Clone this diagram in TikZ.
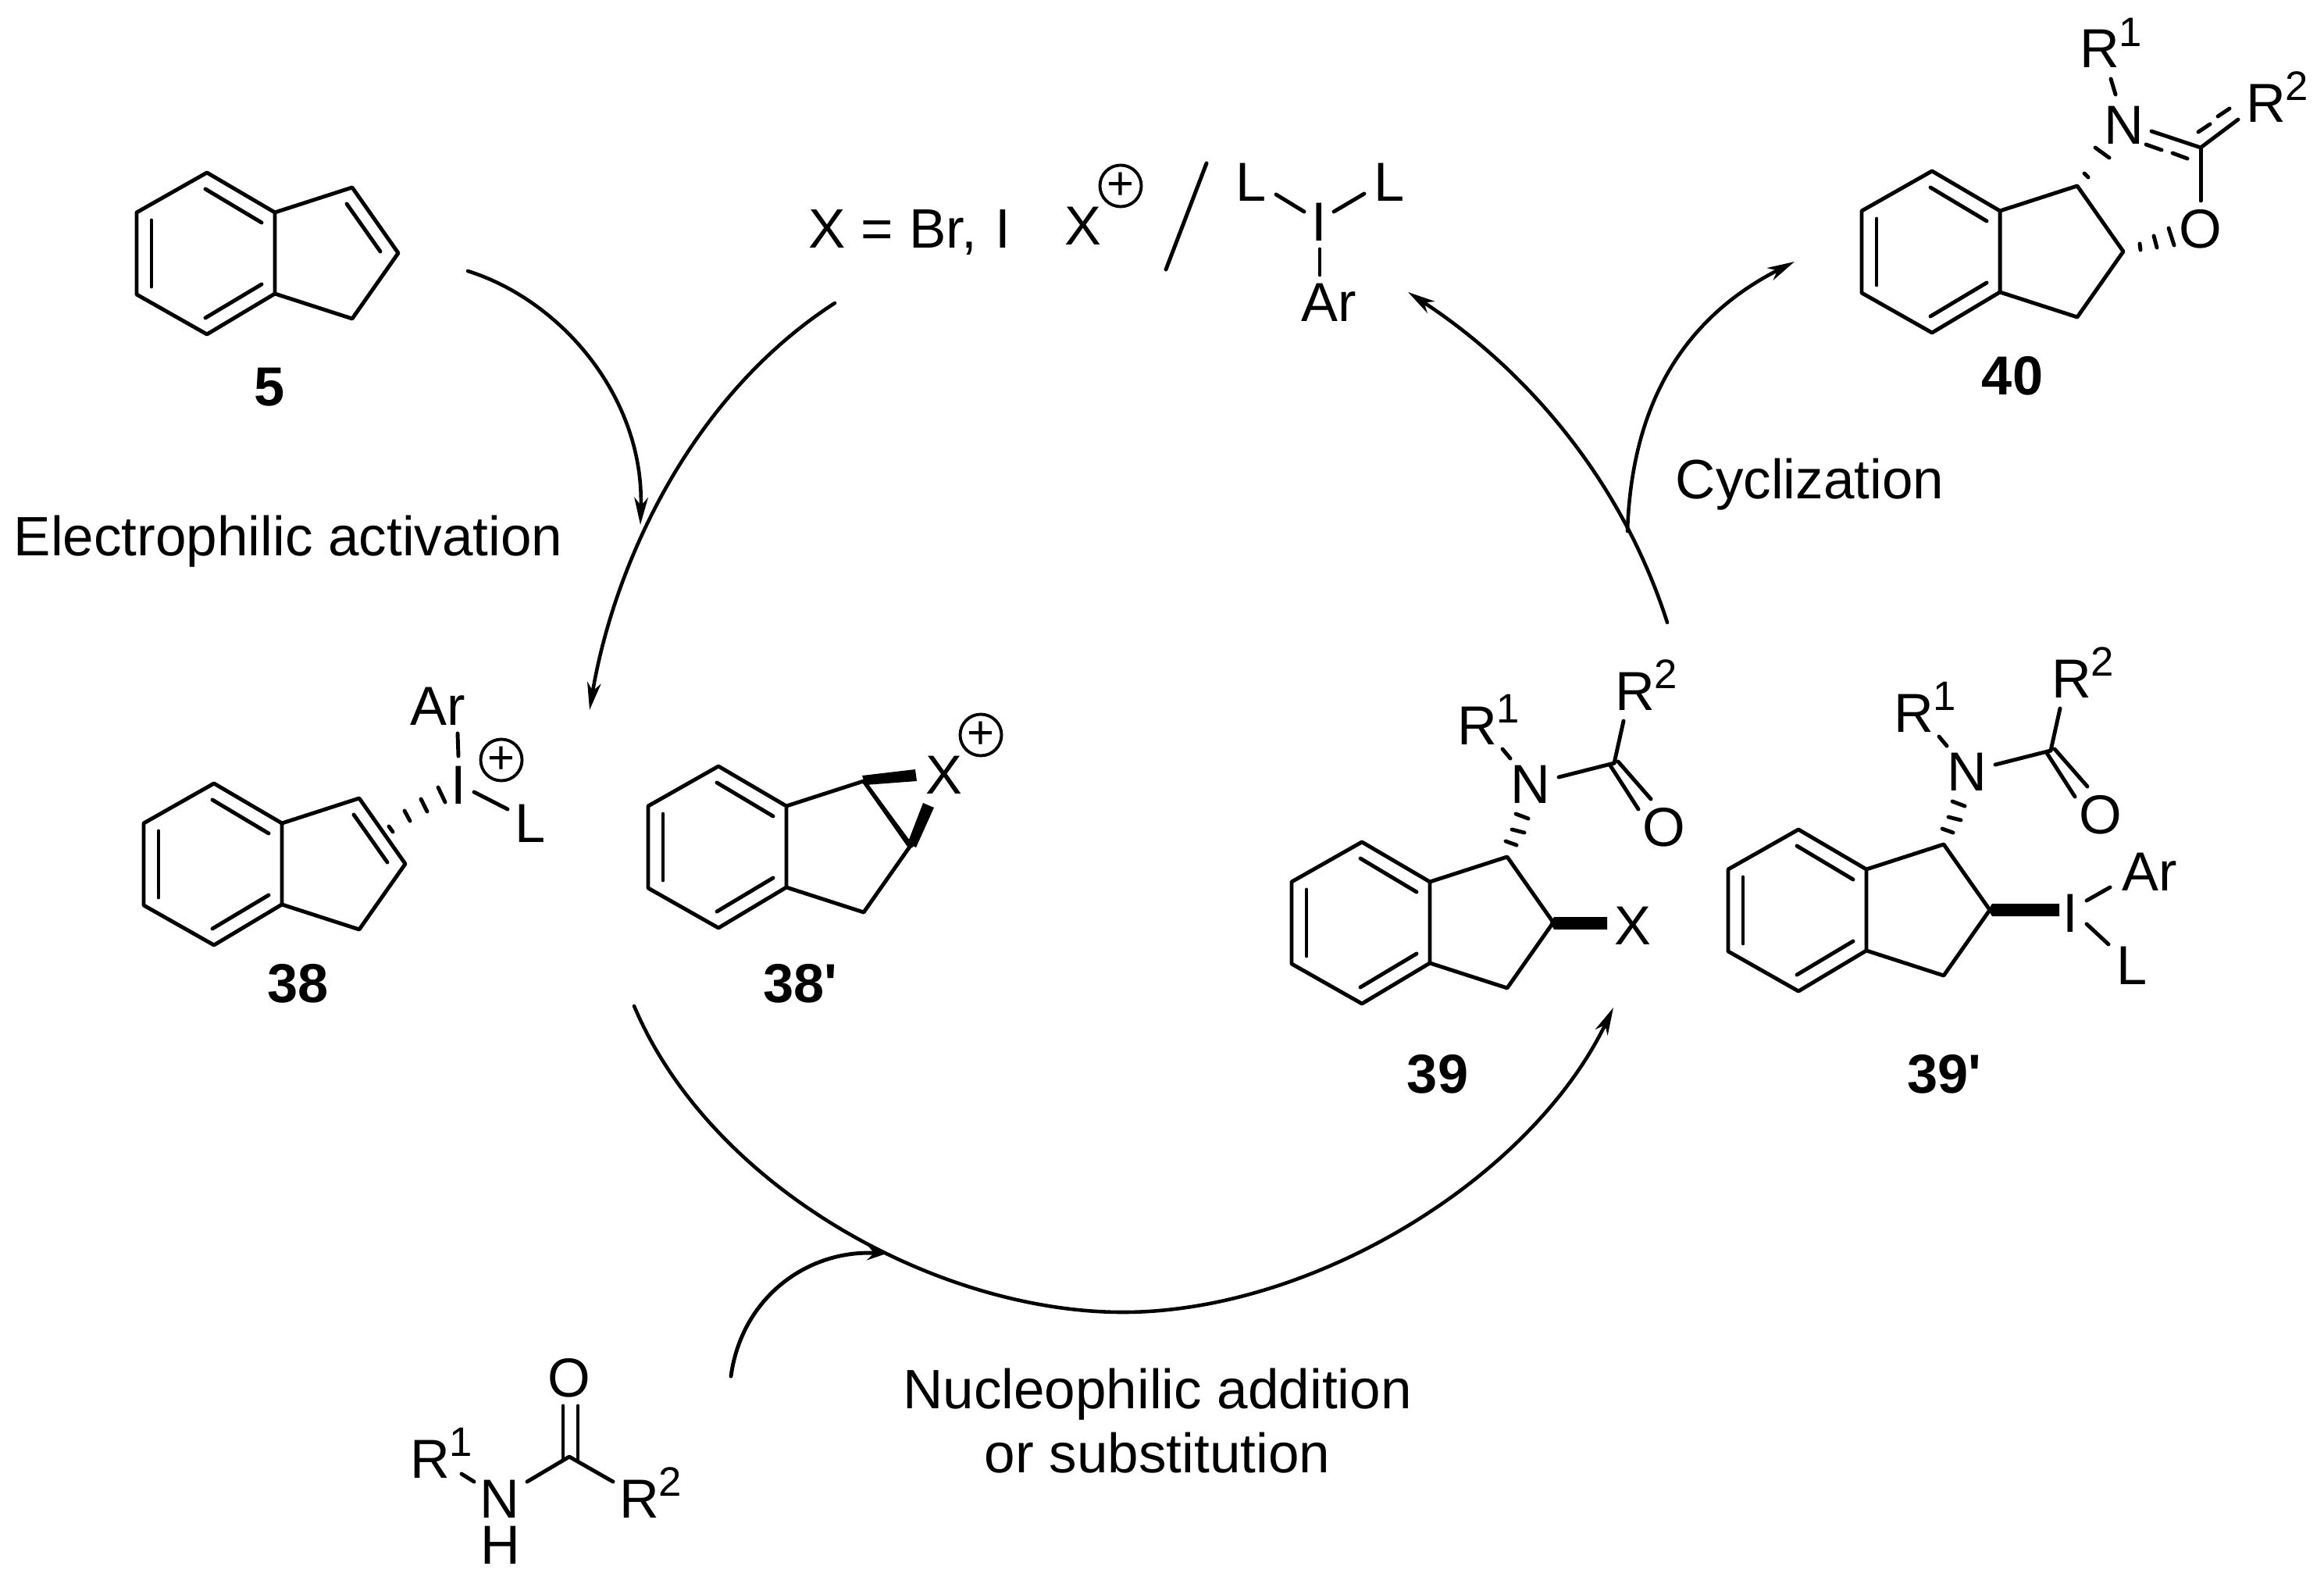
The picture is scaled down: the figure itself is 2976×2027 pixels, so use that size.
\documentclass[tikz,border=0pt]{standalone}
\usepackage{fontspec}
\setmainfont[Ligatures=TeXOff]{Liberation Sans}
\usetikzlibrary{arrows.meta}
\tikzset{
  bond/.style={line width=1.4pt,line cap=round,line join=round},
  arr/.style={line width=1.3pt,line cap=round,-{Stealth[length=10pt,width=5pt,inset=3pt]}},
  arrs/.style={line width=1.4pt,line cap=round,-{Stealth[length=7pt,width=5.5pt,inset=2.5pt]}},
  atom/.style={anchor=base,inner sep=0pt,font=\fontsize{20}{24}\selectfont},
  atomw/.style={anchor=base west,inner sep=0pt,font=\fontsize{20}{24}\selectfont},
  txt/.style={anchor=base west,inner sep=0pt,font=\fontsize{20.2}{24}\selectfont},
  txtc/.style={anchor=base,inner sep=0pt,font=\fontsize{20.2}{24}\selectfont},
  lbl/.style={anchor=base,inner sep=0pt,font=\fontsize{20}{24}\selectfont\bfseries},
  oplus/.style={circle,draw,line width=1.1pt,inner sep=0pt,minimum size=0.53cm,font=\fontsize{17}{17}\selectfont},
}
\newcommand{\Rsup}[1]{R\kern-0.2pt\raisebox{7.7pt}{\fontsize{15}{15}\selectfont #1}}
\newcommand{\indane}[3]{%
\begin{scope}[shift={(#2,#3)}]
  \coordinate (#1a) at (0,0);
  \coordinate (#1b) at (-90,51);
  \coordinate (#1c) at (-90,156);
  \coordinate (#1d) at (0,207);
  \coordinate (#1e) at (87,155);
  \coordinate (#1f) at (87,51);
  \coordinate (#1g) at (186,19);
  \coordinate (#1h) at (245,103);
  \coordinate (#1i) at (186,187);
  \draw[bond] (#1a)--(#1b)--(#1c)--(#1d)--(#1e)--(#1f)--cycle;
  \draw[bond] (#1f)--(#1g)--(#1h)--(#1i)--(#1e);
  \draw[bond] (-2,21)--(70,64);
  \draw[bond] (-2,186)--(70,143);
  \draw[bond] (-71,61)--(-71,146);
\end{scope}}
\newcommand{\ene}[3]{\begin{scope}[shift={(#2,#3)}]\draw[bond] (179,40)--(222,101);\end{scope}}
\newcommand{\sidechain}[3]{%
\begin{scope}[shift={(#2,#3)}]
  \node[atomw] (#1R) at (1866,953) {\Rsup{1}};
  \node[atom] (#1N) at (1960,1028) {N};
  \node[atomw] (#1Q) at (2068,909) {\Rsup{2}};
  \node[atom] (#1O) at (2131,1083) {O};
  \coordinate (#1C) at (2067,977);
  \draw[bond] (1924,959)--(1934,971);
  \draw[bond] (1996,995)--(#1C);
  \draw[bond] (#1C)--(2079,923);
  \draw[bond] (2062,980)--(2098,1036);
  \draw[bond] (2072,975)--(2114,1023);
  \draw[bond] (1928,1077)--(1942,1082);
  \draw[bond] (1936,1062)--(1952,1066);
  \draw[bond] (1941,1042)--(1957,1048);
\end{scope}}
\begin{document}
\begin{tikzpicture}[x=0.01cm,y=-0.01cm]
\useasboundingbox (0,0) rectangle (2976,2027);
% ---- 5
\indane{u}{265}{221}\ene{u}{265}{221}
\node[lbl] (l5) at (345,519) {5};
% ---- reagents
\node[txt] (xeq) at (1035,317) {X = Br,\kern1pt{} I};
\node[atomw] (xp) at (1363,313) {X};
\node[oplus] (xpc) at (1435,238) {+};
\coordinate (sl1) at (1545,209);
\coordinate (sl2) at (1493,345);
\draw[bond] (sl1)--(sl2);
\node[atomw] (ll) at (1582,257) {L};
\node[atomw] (lr) at (1759,257) {L};
\node[atom] (ii) at (1689,308) {I};
\node[atomw] (ar) at (1666,411) {Ar};
\draw[bond] (1634,249)--(1670,271);
\draw[bond] (1747,248)--(1708,271);
\draw[bond] (1690,319)--(1690,352);
% ---- 38
\indane{v}{274}{1003}\ene{v}{274}{1003}
\node[lbl] (l38) at (382,1283) {38};
\node[atomw] (ar38) at (525,928) {Ar};
\node[atom] (i38) at (587,1029) {I};
\node[oplus] (p38) at (642,973) {+};
\node[atomw] (l38b) at (659,1078) {L};
\draw[bond] (586,939)--(587,968);
\draw[bond] (607,1014)--(650,1036);
\draw[bond] (498,1058)--(503,1065);
\draw[bond] (518,1038)--(525,1051);
\draw[bond] (539,1023)--(547,1039);
\draw[bond] (561,1008)--(570,1027);
% ---- 38'
\indane{w}{920}{981}
\node[lbl] (l38p) at (1025,1283) {38'};
\node[atom] (x38) at (1209,1016) {X};
\node[oplus] (p38p) at (1256,941) {+};
\draw[bond] (wg)--(1167,1083);
\fill (1104,993) -- (1172,985) -- (1174,1000) -- (1108,1005) -- cycle;
\fill (1182,1028) -- (1196,1034) -- (1173,1085) -- (1162,1080) -- cycle;
% ---- 39
\indane{y}{1744}{1078}
\sidechain{m}{0}{0}
\node[atom] (x39) at (2091,1209) {X};
\fill (1985,1181) -- (1990,1174) -- (2058,1174) -- (2058,1190) -- (1990,1190) -- cycle;
\node[lbl] (l39) at (1841,1399) {39};
% ---- 39'
\indane{z}{2303}{1062}
\sidechain{n}{559}{-16}
\fill (2546,1165) -- (2551,1157) -- (2637,1157) -- (2637,1173) -- (2551,1173) -- cycle;
\node[atom] (i39) at (2651,1193) {I};
\node[atomw] (ar39) at (2717,1140) {Ar};
\node[atomw] (l39b) at (2710,1260) {L};
\draw[bond] (2672,1153)--(2702,1136);
\draw[bond] (2672,1183)--(2700,1209);
\node[lbl] (l39p) at (2490,1399) {39'};
% ---- 40
\indane{t}{2474}{219}
\node[atomw] (r40) at (2663,87) {\Rsup{1}};
\node[atom] (n40) at (2720,184) {N};
\node[atomw] (q40) at (2876,156) {\Rsup{2}};
\node[atom] (o40) at (2818,317) {O};
\coordinate (c40) at (2818,189);
\draw[bond] (2703,101)--(2709,121);
\draw[bond] (2669,222)--(2674,227);
\draw[bond] (2683,189)--(2701,202);
\draw[bond] (2755,168)--(c40);
\draw[bond] (2748,185)--(2768,192);
\draw[bond] (2782,196)--(2801,203);
\draw[bond] (c40)--(2866,153);
\draw[bond] (2815,169)--(2830,159);
\draw[bond] (2840,149)--(2855,139);
\draw[bond] (c40)--(2818,257);
\draw[bond] (2740,312)--(2741,320);
\draw[bond] (2758,302)--(2762,317);
\draw[bond] (2777,292)--(2784,314);
\node[lbl] (l40) at (2577,505) {40};
% ---- amide
\node[atomw] (r1a) at (525,1892) {\Rsup{1}};
\node[atom] (na) at (640,1943) {N};
\node[atom] (ha) at (641,2002) {H};
\node[atom] (oa) at (729,1788) {O};
\node[atomw] (r2a) at (793,1943) {\Rsup{2}};
\coordinate (ca) at (729,1865);
\draw[bond] (591,1887)--(607,1897);
\draw[bond] (675,1897)--(ca)--(785,1897);
\draw[bond] (721,1800)--(721,1869);
\draw[bond] (740,1800)--(740,1869);
% ---- captions
\node[txt] (t1) at (17,711) {Electrophilic activation};
\node[txt] (t2) at (2145,638) {Cyclization};
\node[txtc] (t3) at (1482,1803) {Nucleophilic addition};
\node[txtc] (t4) at (1482,1885) {or substitution};
% ---- arrows
\coordinate (aS) at (599,347);
\coordinate (aT) at (820,672);
\draw[arr] (aS) .. controls (720,385) and (825,510) .. (aT);
\coordinate (bS) at (1069,388);
\coordinate (bT) at (755,909);
\draw[arr] (bS) .. controls (880,510) and (785,730) .. (bT);
\coordinate (cS) at (812,1288);
\coordinate (cM) at (1438,1680);
\coordinate (cT) at (2066,1290);
\draw[arr] (cS) .. controls (910,1520) and (1200,1680) .. (cM) .. controls (1680,1680) and (1960,1510) .. (cT);
\coordinate (dS) at (936,1762);
\coordinate (dT) at (1135,1605);
\draw[arrs] (dS) .. controls (950,1660) and (1035,1600) .. (dT);
\coordinate (eS) at (2135,797);
\coordinate (eT) at (1803,374);
\draw[arr] (eS) .. controls (2075,610) and (1950,470) .. (eT);
\coordinate (fS) at (2084,680);
\coordinate (fT) at (2298,335);
\draw[arr] (fS) .. controls (2090,500) and (2170,400) .. (fT);
\end{tikzpicture}
\end{document}
